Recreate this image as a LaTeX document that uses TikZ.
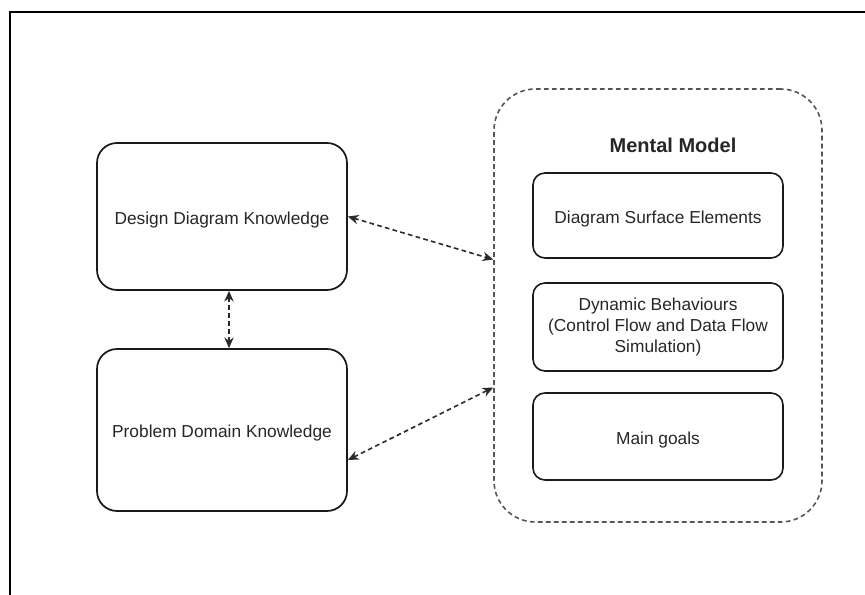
\documentclass[tikz,border=0pt]{standalone}
\usepackage{fontspec}
\setmainfont{Liberation Sans}
\usetikzlibrary{arrows.meta,calc}
\definecolor{ink}{HTML}{1A1A1A}
\definecolor{textink}{HTML}{262626}
\definecolor{dashink}{HTML}{555555}
\definecolor{arrowink}{HTML}{2A2A2A}
\begin{document}
\begin{tikzpicture}[x=0.75pt,y=-0.75pt,
  knowbox/.style={draw=ink,line width=1.3pt,rounded corners=15pt,
    minimum width=250*0.75pt,align=center,text=textink,
    font=\fontsize{13}{15.8}\selectfont},
  innerbox/.style={draw=ink,line width=1.2pt,rounded corners=9pt,
    minimum width=250*0.75pt,align=center,text=textink,
    font=\fontsize{13}{15.8}\selectfont},
  oneline/.style={text height=14.2pt,text depth=2.7pt},
  groupbox/.style={draw=dashink,line width=1.2pt,dash pattern=on 3.5pt off 2.5pt,
    rounded corners=31pt,minimum width=328*0.75pt,minimum height=433*0.75pt},
  link/.style={draw=arrowink,line width=1.2pt,dash pattern=on 3.5pt off 2.5pt,
    {Stealth[length=8pt,width=7pt]}-{Stealth[length=8pt,width=7pt]}},
  frameline/.style={draw=black,line width=1.1pt}]
  \useasboundingbox (0,0) rectangle (865,595);

  % page frame (top and left edges)
  \coordinate (frameTR) at (865,12);
  \coordinate (frameTL) at (10,12);
  \coordinate (frameBL) at (10,595);
  \draw[frameline] (frameTR) -- (frameTL) -- (frameBL);

  % knowledge boxes on the left
  \node[knowbox,oneline,minimum height=147*0.75pt] (design) at (222,216.5) {Design Diagram Knowledge};
  \node[knowbox,oneline,minimum height=162*0.75pt] (problem) at (222,430) {Problem Domain Knowledge};

  % mental model group
  \node[groupbox] (mm) at (658,305.5) {};
  \node[font=\fontsize{15}{18}\selectfont\bfseries,text=textink] (mmtitle) at (673,145) {Mental Model};
  \node[innerbox,oneline,minimum height=85*0.75pt] (surface) at (658,215.5) {Diagram Surface Elements};
  \node[innerbox,minimum height=88*0.75pt] (dynamic) at (658,327)
    {Dynamic Behaviours\\(Control Flow and Data Flow\\Simulation)};
  \node[innerbox,oneline,minimum height=87*0.75pt] (goals) at (658,436.5) {Main goals};

  % connector end points on the box sides
  \coordinate (designS) at ($(design.south)+(7,0)$);
  \coordinate (problemN) at ($(problem.north)+(7,0)$);
  \coordinate (problemE) at ($(problem.east)+(0,30)$);
  \coordinate (mmA) at ($(mm.west)+(0,-46)$);
  \coordinate (mmB) at ($(mm.west)+(0,82)$);

  \draw[link] (design.east) -- (mmA);
  \draw[link] (problemE) -- (mmB);
  \draw[link] (designS) -- (problemN);
\end{tikzpicture}
\end{document}
